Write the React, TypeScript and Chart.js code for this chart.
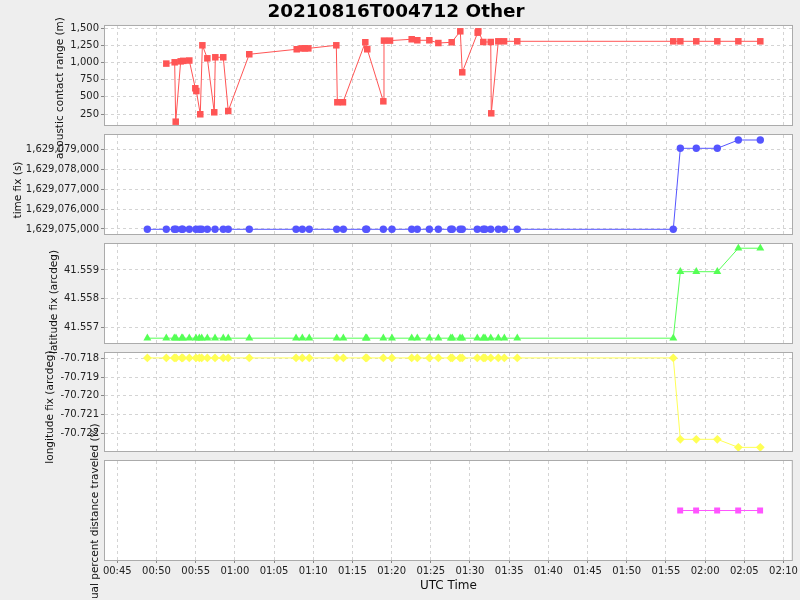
import React, { useEffect, useRef } from 'react';
import { Chart, registerables } from 'chart.js';

Chart.register(...registerables);

const FONT = '"DejaVu Sans", "Noto Sans", sans-serif';

const chartTitle = '20210816T004712 Other';
const xAxisTitle = 'UTC Time';
const xTickLabels = ['00:45', '00:50', '00:55', '01:00', '01:05', '01:10', '01:15', '01:20', '01:25', '01:30', '01:35', '01:40', '01:45', '01:50', '01:55', '02:00', '02:05', '02:10'];

// acoustic contact range (m)
const rangeTimes = ['00:51:15', '00:52:19', '00:52:27', '00:53:05', '00:53:25', '00:54:11', '00:54:57', '00:55:05', '00:55:35', '00:55:51', '00:56:29', '00:57:22', '00:57:30', '00:58:31', '00:59:09', '01:01:50', '01:07:53', '01:08:31', '01:08:56', '01:09:22', '01:12:56', '01:13:04', '01:13:47', '01:16:38', '01:16:53', '01:18:56', '01:19:01', '01:19:47', '01:22:33', '01:23:16', '01:24:48', '01:25:57', '01:27:39', '01:28:45', '01:29:00', '01:30:58', '01:31:03', '01:31:41', '01:32:38', '01:32:42', '01:33:36', '01:34:20', '01:36:01', '01:55:55', '01:56:49', '01:58:51', '02:01:32', '02:04:13', '02:07:01'];
const rangeValues = [985, 1004, 138, 1018, 1025, 1030, 625, 585, 246, 1252, 1062, 275, 1077, 1077, 294, 1121, 1194, 1207, 1207, 1207, 1252, 421, 421, 1296, 1194, 435, 1320, 1320, 1340, 1325, 1325, 1285, 1296, 1456, 858, 1436, 1456, 1300, 1300, 260, 1310, 1310, 1310, 1310, 1310, 1310, 1310, 1310, 1310];

// fixes
const fixTimes = ['00:48:50', '00:51:15', '00:52:16', '00:52:29', '00:53:13', '00:53:21', '00:54:11', '00:55:02', '00:55:28', '00:55:46', '00:56:29', '00:57:28', '00:58:31', '00:59:09', '01:01:50', '01:07:48', '01:08:36', '01:09:29', '01:12:59', '01:13:50', '01:16:41', '01:16:49', '01:18:56', '01:20:02', '01:22:33', '01:23:16', '01:24:48', '01:25:57', '01:27:32', '01:27:44', '01:28:43', '01:29:00', '01:30:55', '01:31:41', '01:31:54', '01:32:38', '01:33:36', '01:34:22', '01:36:01', '01:55:55', '01:56:49', '01:58:51', '02:01:32', '02:04:13', '02:07:01'];
const T0 = 1629074985;
const timeFixValues = [T0, T0, T0, T0, T0, T0, T0, T0, T0, T0, T0, T0, T0, T0, T0, T0, T0, T0, T0, T0, T0, T0, T0, T0, T0, T0, T0, T0, T0, T0, T0, T0, T0, T0, T0, T0, T0, T0, T0, T0, 1629079050, 1629079050, 1629079050, 1629079467, 1629079467];
const LA0 = 41.55662;
const latFixValues = [LA0, LA0, LA0, LA0, LA0, LA0, LA0, LA0, LA0, LA0, LA0, LA0, LA0, LA0, LA0, LA0, LA0, LA0, LA0, LA0, LA0, LA0, LA0, LA0, LA0, LA0, LA0, LA0, LA0, LA0, LA0, LA0, LA0, LA0, LA0, LA0, LA0, LA0, LA0, LA0, 41.55894, 41.55894, 41.55894, 41.55976, 41.55976];
const LO0 = -70.71798;
const lonFixValues = [LO0, LO0, LO0, LO0, LO0, LO0, LO0, LO0, LO0, LO0, LO0, LO0, LO0, LO0, LO0, LO0, LO0, LO0, LO0, LO0, LO0, LO0, LO0, LO0, LO0, LO0, LO0, LO0, LO0, LO0, LO0, LO0, LO0, LO0, LO0, LO0, LO0, LO0, LO0, LO0, -70.72232, -70.72232, -70.72232, -70.72275, -70.72275];

// residual percent distance traveled (%)
const residualTimes = ['01:56:49', '01:58:51', '02:01:32', '02:04:13', '02:07:01'];
const residualValues = [0, 0, 0, 0, 0];

const rangeTicks = [250, 500, 750, 1000, 1250, 1500];
const timeFixTicks = [1629075000, 1629076000, 1629077000, 1629078000, 1629079000];
const latTicks = [41.557, 41.558, 41.559];
const lonTicks = [-70.718, -70.719, -70.72, -70.721, -70.722];

function toMin(t: string): number {
  const p = t.split(':').map(Number);
  return p[0] * 60 + p[1] + (p[2] || 0) / 60;
}
function pad2(n: number) {
  return (n < 10 ? '0' : '') + n;
}
function fmtMin(v: number): string {
  const t = Math.round(v);
  return pad2(Math.floor(t / 60)) + ':' + pad2(t % 60);
}
function pts(times: string[], vals: number[]) {
  return times.map((t, i) => ({ x: toMin(t), y: vals[i] }));
}

const X_MIN = 43.43;
const X_MAX = 131.06;

type Panel = {
  top: number;
  bottom: number;
  yMin: number;
  yMax: number;
  ticks: number[] | null;
  decimals: number;
  title: string;
  titleX: number;
  titleY: number;
  data: { x: number; y: number }[];
  color: string;
  pointStyle: string;
  radius: number;
  isBottom: boolean;
  withTitle: boolean;
};

const panels: Panel[] = [
  { top: 26, bottom: 125, yMin: 89.6, yMax: 1533.5, ticks: rangeTicks, decimals: 0, title: 'acoustic contact range (m)', titleX: 60, titleY: 88, data: pts(rangeTimes, rangeValues), color: '#ff5555', pointStyle: 'rect', radius: 4.6, isBottom: false, withTitle: true },
  { top: 135, bottom: 234, yMin: 1629074749, yMax: 1629079718, ticks: timeFixTicks, decimals: 0, title: 'time fix (s)', titleX: 18, titleY: 190, data: pts(fixTimes, timeFixValues), color: '#5555ff', pointStyle: 'circle', radius: 3.7, isBottom: false, withTitle: false },
  { top: 244, bottom: 343, yMin: 41.556452, yMax: 41.559907, ticks: latTicks, decimals: 3, title: 'latitude fix (arcdeg)', titleX: 54, titleY: 302, data: pts(fixTimes, latFixValues), color: '#55ff55', pointStyle: 'triangle', radius: 4.6, isBottom: false, withTitle: false },
  { top: 353, bottom: 451, yMin: -70.722944, yMax: -70.717717, ticks: lonTicks, decimals: 3, title: 'longitude fix (arcdeg)', titleX: 50, titleY: 407, data: pts(fixTimes, lonFixValues), color: '#ffff55', pointStyle: 'rectRot', radius: 4.4, isBottom: false, withTitle: false },
  { top: 461, bottom: 560, yMin: -1, yMax: 1, ticks: null, decimals: 0, title: 'residual percent distance traveled (%)', titleX: 95, titleY: 524, data: pts(residualTimes, residualValues), color: '#ff55ff', pointStyle: 'rect', radius: 4.2, isBottom: true, withTitle: false },
];

const panelFrame = {
  id: 'panelFrame',
  beforeDraw(chart: any) {
    const { ctx, chartArea: a } = chart;
    ctx.save();
    ctx.fillStyle = '#ffffff';
    ctx.fillRect(a.left, a.top, a.right - a.left, a.bottom - a.top);
    ctx.restore();
  },
  afterDraw(chart: any, _args: any, opts: any) {
    const { ctx, chartArea: a } = chart;
    ctx.save();
    ctx.strokeStyle = '#ababab';
    ctx.lineWidth = 1;
    ctx.strokeRect(a.left - 0.5, a.top - 0.5, a.right - a.left + 1, a.bottom - a.top + 1);
    if (opts && opts.text) {
      ctx.translate(opts.x, opts.y);
      ctx.rotate(-Math.PI / 2);
      ctx.fillStyle = '#111';
      ctx.font = '10.5px ' + FONT;
      ctx.textAlign = 'center';
      ctx.textBaseline = 'middle';
      ctx.fillText(opts.text, 0, 0);
    }
    ctx.restore();
  },
};

function makeConfig(p: Panel): any {
  const fmt = (v: number) =>
    v.toLocaleString('en-US', { minimumFractionDigits: p.decimals, maximumFractionDigits: p.decimals });
  return {
    type: 'line',
    data: {
      datasets: [
        {
          data: p.data,
          borderColor: p.color,
          backgroundColor: p.color,
          borderWidth: 1,
          pointStyle: p.pointStyle,
          pointRadius: p.radius,
          pointBorderWidth: 0,
          pointBackgroundColor: p.color,
          tension: 0,
        },
      ],
    },
    options: {
      animation: false,
      responsive: false,
      devicePixelRatio: 1,
      events: [],
      layout: {
        padding: {
          left: 0,
          right: 8,
          top: p.withTitle ? 0 : p.top,
          bottom: p.isBottom ? 0 : 600 - p.bottom,
        },
      },
      plugins: {
        legend: { display: false },
        tooltip: { enabled: false },
        panelFrame: { text: p.title, x: p.titleX, y: p.titleY },
        title: {
          display: p.withTitle,
          text: chartTitle,
          color: '#000',
          font: { family: FONT, size: 18.4, weight: 'bold', lineHeight: 1.2 },
          padding: { top: 1.5, bottom: 2.4 },
        },
      },
      scales: {
        x: {
          type: 'linear',
          min: X_MIN,
          max: X_MAX,
          afterBuildTicks: (s: any) => {
            s.ticks = xTickLabels.map((l) => ({ value: toMin(l) }));
          },
          afterFit: (s: any) => {
            s.height = p.isBottom ? 40 : 0;
          },
          grid: {
            color: '#d4d4d4',
            lineWidth: 1,
            drawTicks: p.isBottom,
            tickLength: 3,
            tickColor: '#888',
            tickBorderDash: [],
          },
          border: { display: false, dash: [3, 3] },
          ticks: {
            display: p.isBottom,
            color: '#222',
            padding: 2,
            maxRotation: 0,
            autoSkip: false,
            font: { family: FONT, size: 10 },
            callback: (v: number) => fmtMin(v),
          },
          title: {
            display: p.isBottom,
            text: xAxisTitle,
            color: '#111',
            font: { family: FONT, size: 12 },
            padding: { top: 0, bottom: 6.8 },
          },
        },
        y: {
          type: 'linear',
          min: p.yMin,
          max: p.yMax,
          afterBuildTicks: (s: any) => {
            if (p.ticks) s.ticks = p.ticks.map((v) => ({ value: v }));
          },
          afterFit: (s: any) => {
            s.width = 105;
          },
          grid: {
            display: !!p.ticks,
            color: '#d4d4d4',
            lineWidth: 1,
            drawTicks: true,
            tickLength: 4,
            tickColor: '#888',
            tickBorderDash: [],
          },
          border: { display: false, dash: [3, 3] },
          ticks: {
            display: !!p.ticks,
            color: '#222',
            padding: 2,
            autoSkip: false,
            font: { family: FONT, size: 10 },
            callback: (v: number) => fmt(v),
          },
          title: { display: false },
        },
      },
    },
    plugins: [panelFrame],
  };
}

export default function App() {
  const refs = useRef<(HTMLCanvasElement | null)[]>([]);

  useEffect(() => {
    const charts: Chart[] = [];
    panels.forEach((p, i) => {
      const c = refs.current[i];
      if (c) charts.push(new Chart(c, makeConfig(p)));
    });
    return () => charts.forEach((c) => c.destroy());
  }, []);

  return (
    <div
      style={{
        position: 'fixed',
        left: 0,
        top: 0,
        width: 800,
        height: 600,
        background: '#eeeeee',
        overflow: 'hidden',
      }}
    >
      {panels.map((_, i) => (
        <canvas
          key={i}
          ref={(el) => {
            refs.current[i] = el;
          }}
          width={800}
          height={600}
          style={{ position: 'absolute', left: 0, top: 0, width: 800, height: 600 }}
        />
      ))}
    </div>
  );
}
